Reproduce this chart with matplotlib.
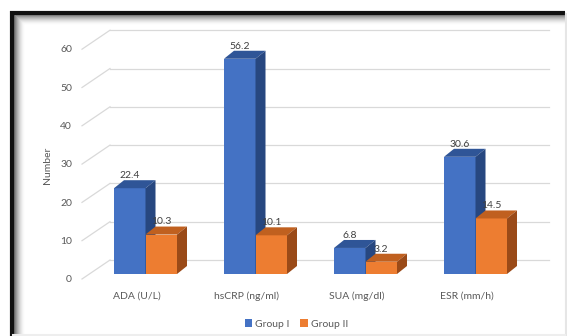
import matplotlib
matplotlib.use('Agg')
import matplotlib.pyplot as plt
from matplotlib.patches import Polygon, Patch
import numpy as np

plt.rcParams['font.family'] = ['Lato', 'DejaVu Sans']

# data
categories = ['ADA (U/L)', 'hsCRP (ng/ml)', 'SUA (mg/dl)', 'ESR (mm/h)']
group1 = [22.4, 56.2, 6.8, 30.6]
group2 = [10.3, 10.1, 3.2, 14.5]
series_names = ['Group I', 'Group II']
yticks = [0, 10, 20, 30, 40, 50, 60]

front_cols = ['#4472C4', '#ED7D31']
top_cols = ['#2F5597', '#C0601F']
side_cols = ['#274780', '#9A4A18']
text_col = '#595959'

W, H = 567, 336
fig = plt.figure(figsize=(W / 100, H / 100), dpi=100)

# frame / shadow decoration in pixel space
bg = fig.add_axes([0, 0, 1, 1])
bg.set_xlim(0, W)
bg.set_ylim(H, 0)
bg.axis('off')
for k in range(12):
    a = 0.55 * (1 - k / 12) ** 2
    bg.plot([13 + k, 13 + k], [13 + k, H], color='black', alpha=a, lw=1, solid_capstyle='butt')
    bg.plot([13 + k, W - 2], [13 + k, 13 + k], color='black', alpha=a, lw=1, solid_capstyle='butt')
bg.plot([11.5, 11.5], [11, H], color='#111111', lw=3, solid_capstyle='butt')
bg.plot([10, W - 2], [12.5, 12.5], color='#111111', lw=3, solid_capstyle='butt')
bg.plot([W - 1.5, W - 1.5], [14, H], color='#e6e6e6', lw=1.5)
bg.plot([13, W - 2], [H - 1.5, H - 1.5], color='#eeeeee', lw=1.5)

# chart axes: x in category units (110 px), y in values (3.83 px per unit)
px_x = 110.0
px_y = 3.83
x0_px, y0_px = 145.5, 274.0
ax = fig.add_axes([0, 0, 1, 1])
ax.set_xlim(-x0_px / px_x, (W - x0_px) / px_x)
ax.set_ylim((y0_px - H) / px_y, y0_px / px_y)
ax.axis('off')
ax.patch.set_alpha(0)

bw = 31.5 / px_x
dx = 10 / px_x
dy = 8 / px_y
back = 14 / px_y
fdx, fdy = 28 / px_x, 19 / px_y

# back wall gridlines + floor diagonals
gl_left = (110 - x0_px) / px_x
gl_right = (549 - x0_px) / px_x
for t in yticks:
    ax.plot([gl_left, gl_right], [t + back, t + back], color='#d9d9d9', lw=0.9, zorder=1)
    ax.plot([gl_left - fdx, gl_left], [t + back - fdy, t + back], color='#d9d9d9', lw=0.9, zorder=1)
    ax.text(gl_left - fdx - 10 / px_x, t - 1.5, str(t), ha='right', va='center',
            fontsize=7.5, color=text_col)

x = np.arange(len(categories))

def bar3d(xl, v, i, z):
    ax.add_patch(Polygon([(xl, 0), (xl + bw, 0), (xl + bw, v), (xl, v)],
                         closed=True, fc=front_cols[i], ec='none', zorder=z))
    ax.add_patch(Polygon([(xl, v), (xl + bw, v), (xl + bw + dx, v + dy), (xl + dx, v + dy)],
                         closed=True, fc=top_cols[i], ec='none', zorder=z))
    ax.add_patch(Polygon([(xl + bw, 0), (xl + bw, v), (xl + bw + dx, v + dy), (xl + bw + dx, dy)],
                         closed=True, fc=side_cols[i], ec='none', zorder=z))
    ax.text(xl + bw / 2, v + 3.3, f'{v}', ha='center', va='center', fontsize=7.5,
            color='#404040', zorder=10)

for j in range(len(categories)):
    bar3d(x[j] - bw, group1[j], 0, 3)
    bar3d(x[j], group2[j], 1, 4)
    ax.text(x[j] - 8.5 / px_x, -5.75, categories[j], ha='center', va='center',
            fontsize=7.5, color=text_col)

ax.text((48 - x0_px) / px_x, 28.5, 'Number', rotation=90, ha='center', va='center',
        fontsize=7.5, color=text_col)

handles = [Patch(fc=front_cols[i], ec='none', label=series_names[i]) for i in range(2)]
fig.legend(handles=handles, loc='center', bbox_to_anchor=(296.5 / W, 1 - 324 / H), ncol=2,
           frameon=False, fontsize=7.5, handlelength=0.7, handleheight=0.7,
           handletextpad=0.3, columnspacing=1.0, labelcolor=text_col)

fig.savefig('out.png', dpi=100)
